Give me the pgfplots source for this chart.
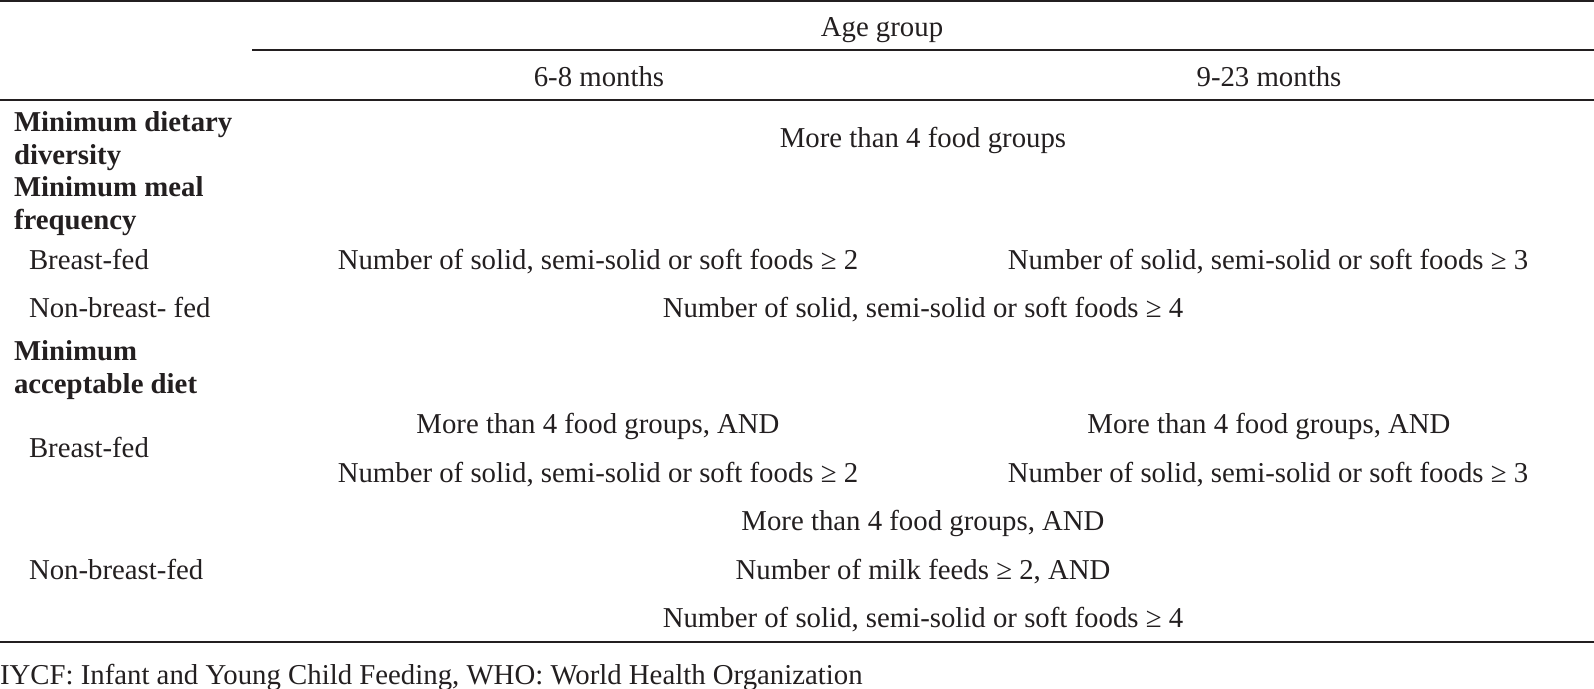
\documentclass[border=0pt]{standalone}
\usepackage{pgfplots}
\pgfplotsset{compat=1.18}
\usepackage{fontspec}
\setmainfont{Liberation Serif}
\definecolor{ink}{HTML}{231F20}
\tikzset{cell/.style={inner sep=0pt, outer sep=0pt, text=ink, yshift=-3bp}}
\begin{document}
\fontsize{28.9}{34}\selectfont
\begin{tikzpicture}
\begin{axis}[
  width=1594bp, height=689bp, scale only axis,
  xmin=0, xmax=1594, ymin=0, ymax=689, y dir=reverse,
  hide axis, clip=false,
]
% rules
\addplot[ink, line width=2bp] coordinates {(0,1.5) (1594,1.5)};
\addplot[ink, line width=2bp] coordinates {(252,50) (1594,50)};
\addplot[ink, line width=2bp] coordinates {(0,100) (1594,100)};
\addplot[ink, line width=2bp] coordinates {(0,642) (1594,642)};
% header
\node[cell, anchor=mid] at (axis cs:882,27) {Age group};
\node[cell, anchor=mid] at (axis cs:599,77) {6-8 months};
\node[cell, anchor=mid] at (axis cs:1269,77) {9-23 months};
% row labels
\node[cell, anchor=mid west] at (axis cs:14,122) {\bfseries Minimum dietary};
\node[cell, anchor=mid west] at (axis cs:14,155) {\bfseries diversity};
\node[cell, anchor=mid west] at (axis cs:14,187) {\bfseries Minimum meal};
\node[cell, anchor=mid west] at (axis cs:14,220) {\bfseries frequency};
\node[cell, anchor=mid west] at (axis cs:29,260) {Breast-fed};
\node[cell, anchor=mid west] at (axis cs:29,308) {Non-breast- fed};
\node[cell, anchor=mid west] at (axis cs:14,351) {\bfseries Minimum};
\node[cell, anchor=mid west] at (axis cs:14,384) {\bfseries acceptable diet};
\node[cell, anchor=mid west] at (axis cs:29,448) {Breast-fed};
\node[cell, anchor=mid west] at (axis cs:29,570) {Non-breast-fed};
% cells
\node[cell, anchor=mid] at (axis cs:923,138) {More than 4 food groups};
\node[cell, anchor=mid] at (axis cs:598,260) {Number of solid, semi-solid or soft foods ≥ 2};
\node[cell, anchor=mid] at (axis cs:1268,260) {Number of solid, semi-solid or soft foods ≥ 3};
\node[cell, anchor=mid] at (axis cs:923,308) {Number of solid, semi-solid or soft foods ≥ 4};
\node[cell, anchor=mid] at (axis cs:598,424) {More than 4 food groups, AND};
\node[cell, anchor=mid] at (axis cs:1269,424) {More than 4 food groups, AND};
\node[cell, anchor=mid] at (axis cs:598,473) {Number of solid, semi-solid or soft foods ≥ 2};
\node[cell, anchor=mid] at (axis cs:1268,473) {Number of solid, semi-solid or soft foods ≥ 3};
\node[cell, anchor=mid] at (axis cs:923,521) {More than 4 food groups, AND};
\node[cell, anchor=mid] at (axis cs:923,570) {Number of milk feeds ≥ 2, AND};
\node[cell, anchor=mid] at (axis cs:923,618) {Number of solid, semi-solid or soft foods ≥ 4};
% footnote
\node[cell, anchor=mid west] at (axis cs:0,675) {IYCF: Infant and Young Child Feeding, WHO: World Health Organization};
\end{axis}
\pgfresetboundingbox
\path (0,0) rectangle (1594bp,689bp);
\end{tikzpicture}
\end{document}
